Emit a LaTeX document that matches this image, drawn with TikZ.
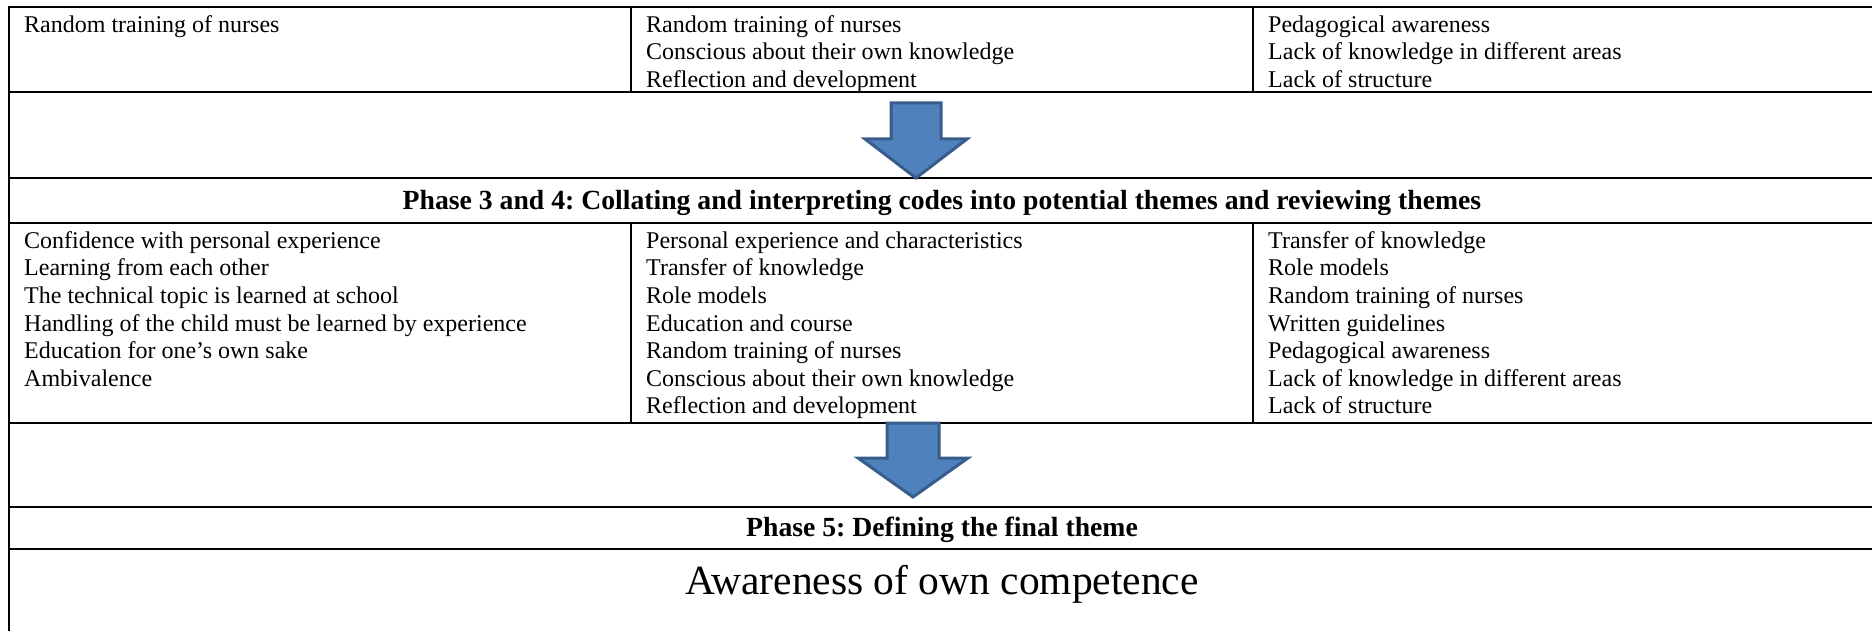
\documentclass[tikz,border=0pt]{standalone}
\usepackage{fontspec}
\setmainfont{Liberation Serif}
\frenchspacing
\definecolor{arrowfill}{RGB}{79,129,189}
\definecolor{arrowedge}{RGB}{56,93,138}
\newcommand\cellfont{\fontsize{24}{27.6}\selectfont}
\newcommand\headfont{\fontsize{27.7}{32}\selectfont\bfseries}
\newcommand\bigfont{\fontsize{41.5}{46}\selectfont}
\tikzset{
  tline/.style={line width=2pt, line cap=rect},
  cell/.style={anchor=north west, inner sep=0pt, align=left, font=\cellfont},
  headtext/.style={anchor=base, inner sep=0pt, font=\headfont},
  themetext/.style={anchor=base, inner sep=0pt, font=\bigfont},
  bluearrow/.style={fill=arrowfill, draw=arrowedge, line width=3pt, line join=miter}
}
\begin{document}
\begin{tikzpicture}[x=1pt,y=-1pt]
\useasboundingbox (0,0) rectangle (1872,631);
% table rules
\draw[tline] (9,7) -- (1872,7);
\draw[tline] (9,92.5) -- (1872,92.5);
\draw[tline] (9,178) -- (1872,178);
\draw[tline] (9,223) -- (1872,223);
\draw[tline] (9,423) -- (1872,423);
\draw[tline] (9,507) -- (1872,507);
\draw[tline] (9,549) -- (1872,549);
\draw[tline] (9,7) -- (9,640);
\draw[tline] (631,7) -- (631,92.5);
\draw[tline] (1253,7) -- (1253,92.5);
\draw[tline] (631,223) -- (631,423);
\draw[tline] (1253,223) -- (1253,423);
% row 1
\node[cell] (r1c1) at (24,12.7) {\strut Random training of nurses};
\node[cell] (r1c2) at (646,12.7) {\strut Random training of nurses\\Conscious about their own knowledge\\Reflection and development};
\node[cell] (r1c3) at (1268,12.7) {\strut Pedagogical awareness\\Lack of knowledge in different areas\\Lack of structure};
% arrow 1
\draw[bluearrow] (891,103) -- (941,103) -- (941,139) -- (967,139) -- (916,178) -- (865,139) -- (891,139) -- cycle;
% header phase 3 and 4
\node[headtext] (h34) at (942,210) {Phase 3 and 4: Collating and interpreting codes into potential themes and reviewing themes};
% row 2
\node[cell] (r2c1) at (24,228.7) {\strut Confidence with personal experience\\Learning from each other\\The technical topic is learned at school\\Handling of the child must be learned by experience\\Education for one’s own sake\\Ambivalence};
\node[cell] (r2c2) at (646,228.7) {\strut Personal experience and characteristics\\Transfer of knowledge\\Role models\\Education and course\\Random training of nurses\\Conscious about their own knowledge\\Reflection and development};
\node[cell] (r2c3) at (1268,228.7) {\strut Transfer of knowledge\\Role models\\Random training of nurses\\Written guidelines\\Pedagogical awareness\\Lack of knowledge in different areas\\Lack of structure};
% arrow 2
\draw[bluearrow] (887,423) -- (939,423) -- (939,458) -- (968,458) -- (913,497) -- (858,458) -- (887,458) -- cycle;
% phase 5
\node[headtext] (h5) at (942,536) {Phase 5: Defining the final theme};
\node[themetext] (theme) at (942,594) {Awareness of own competence};
\end{tikzpicture}
\end{document}
